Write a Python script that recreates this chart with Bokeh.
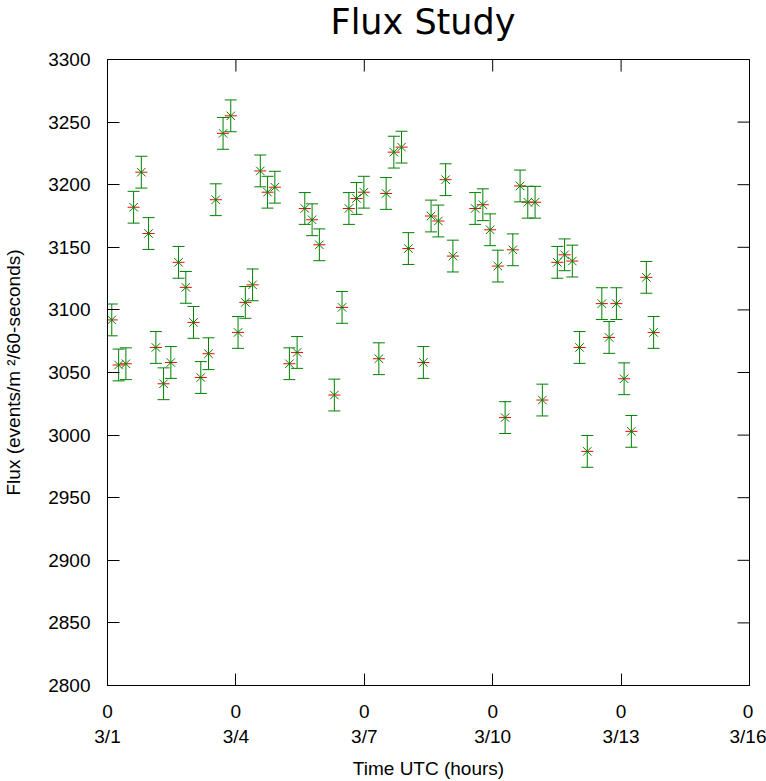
import math
import numpy as np
from bokeh.plotting import figure
from bokeh.models import FixedTicker, Range1d, ColumnDataSource, Title
from bokeh.embed import file_html
from bokeh.resources import INLINE

# ---- data (time in days since 3/1 00:00 UTC, flux in events/m^2/60-seconds) ----
days = [0.10, 0.26, 0.43, 0.61, 0.79, 0.96, 1.13, 1.31, 1.48, 1.66,
        1.83, 2.01, 2.18, 2.36, 2.53, 2.70, 2.88, 3.05, 3.22, 3.39,
        3.57, 3.74, 3.91, 4.25, 4.43, 4.61, 4.78, 4.95, 5.30, 5.48,
        5.64, 5.82, 5.99, 6.34, 6.51, 6.69, 6.87, 7.03, 7.38, 7.56,
        7.73, 7.90, 8.07, 8.59, 8.77, 8.94, 9.12, 9.29, 9.47, 9.64,
        9.82, 9.99, 10.16, 10.51, 10.68, 10.86, 11.03, 11.21, 11.55, 11.72,
        11.89, 12.07, 12.24, 12.59, 12.76]
flux = [3092, 3056, 3057, 3182, 3210, 3161, 3070, 3041, 3058, 3138,
        3118, 3090, 3046, 3065, 3188, 3241, 3255, 3082, 3106, 3120,
        3211, 3194, 3198, 3057, 3066, 3181, 3172, 3152, 3032, 3102,
        3181, 3189, 3194, 3061, 3193, 3226, 3230, 3149, 3058, 3175,
        3171, 3204, 3143, 3181, 3184, 3164, 3135, 3014, 3148, 3199,
        3186, 3186, 3028, 3138, 3144, 3139, 3070, 2987, 3105, 3078,
        3105, 3045, 3003, 3126, 3082]
flux_err = 12.7

x_ticks = [0, 3, 6, 9, 12, 15]
x_tick_hours = ["0", "0", "0", "0", "0", "0"]
x_tick_dates = ["3/1", "3/4", "3/7", "3/10", "3/13", "3/16"]
y_ticks = [2800, 2850, 2900, 2950, 3000, 3050, 3100, 3150, 3200, 3250, 3300]

GREEN = "#008000"
RED = "#ff0000"
FONT = "Liberation Sans"

X0, X1 = 0, 15
Y0, Y1 = 2800, 3300

y = np.array(flux, dtype=float)
src = ColumnDataSource(dict(x=days, y=y, lo=y - flux_err, hi=y + flux_err))

p = figure(width=766, height=781, output_backend="svg", toolbar_location=None,
           x_range=Range1d(X0, X1), y_range=Range1d(Y0, Y1),
           min_border_left=106, min_border_right=17, min_border_top=59, min_border_bottom=95)

p.background_fill_color = "white"
p.border_fill_color = "white"
p.outline_line_color = "black"
p.outline_line_width = 1
p.xgrid.grid_line_color = None
p.ygrid.grid_line_color = None

def style_axis(ax):
    ax.major_tick_in = 12
    ax.major_tick_out = 0
    ax.minor_tick_line_color = None
    ax.axis_line_color = "black"
    ax.major_tick_line_color = "black"
    ax.major_label_text_font = FONT
    ax.major_label_text_font_size = "19px"
    ax.major_label_text_color = "black"
    ax.axis_label_text_font = FONT
    ax.axis_label_text_font_size = "19px"
    ax.axis_label_text_font_style = "normal"
    ax.axis_label_text_color = "black"

# bottom axis (created by figure)
xa = p.below[0]
style_axis(xa)
xa.ticker = FixedTicker(ticks=x_ticks)
xa.major_label_overrides = {t: f"{h}\n{d}" for t, h, d in zip(x_ticks, x_tick_hours, x_tick_dates)}
xa.major_label_standoff = 15
xa.axis_label = "Time UTC (hours)"
xa.axis_label_standoff = 8

# left axis
ya = p.left[0]
style_axis(ya)
ya.ticker = FixedTicker(ticks=y_ticks)
ya.major_label_standoff = 17
ya.axis_label = "Flux (events/m \u00b2/60-seconds)"
ya.axis_label_standoff = 21

# built-in title unused; the title is a panel of its own with a spacer panel below it
p.title.text = ""
p.title.visible = False

spacer = Title(text=" ", text_font=FONT, text_font_size="12px", standoff=0)
p.add_layout(spacer, "above")

title = Title(text="Flux Study", text_font="DejaVu Sans", text_font_size="35px",
              text_font_style="normal", text_color="black", align="left",
              vertical_align="top", offset=223, standoff=0)
p.add_layout(title, "above")

# mirrored ticks on the right and top edges
p.ray(x=[X1] * len(y_ticks), y=y_ticks, length=12, length_units="screen",
      angle=math.pi, line_color="black", line_width=1)
p.ray(x=x_ticks, y=[Y1] * len(x_ticks), length=12, length_units="screen",
      angle=-math.pi / 2, line_color="black", line_width=1)

# red centre marks
p.scatter("x", "y", source=src, marker="dash", size=12, line_color=RED, line_width=1)
# green error bars with caps
p.segment(x0="x", y0="lo", x1="x", y1="hi", source=src, line_color=GREEN, line_width=1)
p.scatter("x", "lo", source=src, marker="dash", size=12, line_color=GREEN, line_width=1)
p.scatter("x", "hi", source=src, marker="dash", size=12, line_color=GREEN, line_width=1)
# green x marks
p.scatter("x", "y", source=src, marker="x", size=12, line_color=GREEN, line_width=1)

open("out.html", "w").write(file_html(p, INLINE))
